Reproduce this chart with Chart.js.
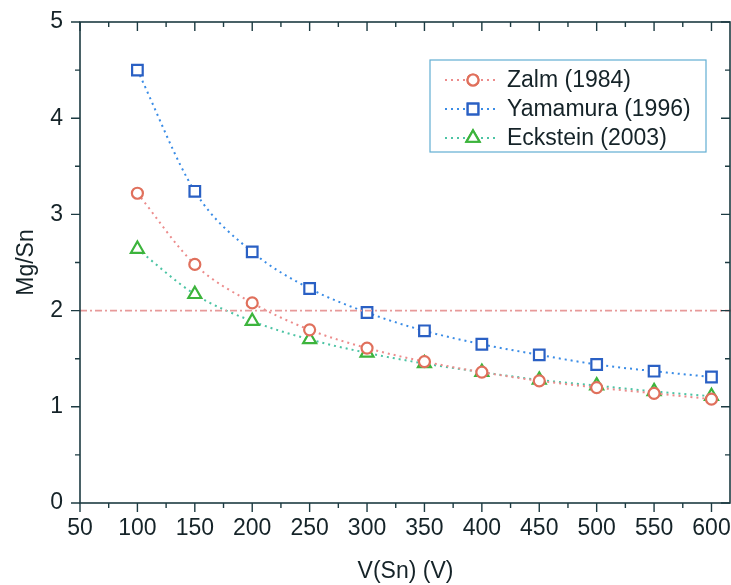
<!DOCTYPE html>
<html>
<head>
<meta charset="utf-8">
<script src="https://cdn.jsdelivr.net/npm/chart.js@4/dist/chart.umd.min.js"></script>
<style>
  body { margin: 0; background: #fff; }
  #wrap { width: 731px; height: 585px; }
</style>
</head>
<body>
<div id="wrap"><canvas id="chart" width="731" height="585"></canvas></div>
<script>
// values
const voltages = [100, 150, 200, 250, 300, 350, 400, 450, 500, 550, 600];
const zalm = [3.22, 2.48, 2.08, 1.80, 1.61, 1.47, 1.36, 1.27, 1.20, 1.14, 1.08];
const yamamura = [4.50, 3.24, 2.61, 2.23, 1.98, 1.79, 1.65, 1.54, 1.44, 1.37, 1.31];
const eckstein = [2.64, 2.17, 1.89, 1.70, 1.56, 1.45, 1.36, 1.28, 1.22, 1.16, 1.11];
const seriesNames = ["Zalm (1984)", "Yamamura (1996)", "Eckstein (2003)"];
const refLevel = 2;
const xMin = 50, xMax = 617;
const yMin = 0, yMax = 5;

const FONT = "Liberation Sans, Arial, sans-serif";
const axisColor = "#1d3b42";
const textColor = "#152328";

function toPoints(vals) {
    return vals.map((v, i) => ({ x: voltages[i], y: v }));
}

const styles = [
    { line: "#ec8c8c", marker: "#e0705c", shape: "circle", r: 5.5 },
    { line: "#3a8ce6", marker: "#2a60c4", shape: "rect", r: 7.5 },
    { line: "#4cc4a4", marker: "#3cb43c", shape: "triangle", r: 7.5 }
];

const datasets = [zalm, yamamura, eckstein].map((vals, i) => ({
    label: seriesNames[i],
    data: toPoints(vals),
    borderColor: styles[i].line,
    borderWidth: 2,
    borderDash: [2, 4],
    cubicInterpolationMode: "monotone",
    pointStyle: styles[i].shape,
    pointRadius: styles[i].r,
    pointBorderColor: styles[i].marker,
    pointBorderWidth: 2.2,
    pointBackgroundColor: "#fff",
    fill: false
}));

// dash-dot reference line at Mg/Sn = 2
datasets.unshift({
    label: "ref",
    data: [{ x: xMin, y: refLevel }, { x: xMax, y: refLevel }],
    borderColor: "#e79a9a",
    borderWidth: 1.6,
    borderDash: [7, 3, 2, 3],
    pointRadius: 0,
    fill: false
});

// frame, minor/major ticks, and the boxed legend
const framePlugin = {
    id: "frame",
    afterDraw(chart) {
        const ctx = chart.ctx;
        const a = chart.chartArea;
        const xs = chart.scales.x, ys = chart.scales.y;
        const right = Math.min(a.right, 730);
        ctx.save();
        ctx.strokeStyle = axisColor;
        ctx.lineWidth = 1.6;
        ctx.strokeRect(a.left, a.top, right - a.left, a.bottom - a.top);

        ctx.lineWidth = 1.4;
        for (let v = xMin; v <= 600; v += 25) {
            const px = xs.getPixelForValue(v);
            const len = (v % 50 === 0) ? 9 : 5;
            ctx.beginPath();
            ctx.moveTo(px, a.bottom); ctx.lineTo(px, a.bottom + len);
            ctx.moveTo(px, a.top); ctx.lineTo(px, a.top + len);
            ctx.stroke();
        }
        for (let v = yMin; v <= yMax; v += 0.5) {
            const py = ys.getPixelForValue(v);
            const len = (v % 1 === 0) ? 9 : 5;
            ctx.beginPath();
            ctx.moveTo(a.left, py); ctx.lineTo(a.left - len, py);
            ctx.moveTo(right, py); ctx.lineTo(right - len, py);
            ctx.stroke();
        }

        // legend
        const box = { x: 430, y: 60, w: 276, h: 92 };
        ctx.fillStyle = "#fff";
        ctx.fillRect(box.x, box.y, box.w, box.h);
        ctx.strokeStyle = "#62aed2";
        ctx.lineWidth = 1.2;
        ctx.strokeRect(box.x, box.y, box.w, box.h);
        const rowsY = [80, 109, 138];
        seriesNames.forEach((name, i) => {
            const st = styles[i];
            const y = rowsY[i];
            ctx.save();
            ctx.strokeStyle = st.line;
            ctx.lineWidth = 2;
            ctx.setLineDash([2, 4]);
            ctx.beginPath();
            ctx.moveTo(445, y); ctx.lineTo(499, y);
            ctx.stroke();
            ctx.restore();
            ctx.fillStyle = "#fff";
            ctx.strokeStyle = st.marker;
            ctx.lineWidth = 2.2;
            Chart.helpers.drawPoint(ctx, { pointStyle: st.shape, radius: st.r, borderWidth: 2.2 }, 473, y);
            ctx.fill();
            ctx.stroke();
            ctx.fillStyle = textColor;
            ctx.font = "23px " + FONT;
            ctx.textAlign = "left";
            ctx.textBaseline = "middle";
            ctx.fillText(name, 507, y + 1);
        });
        ctx.restore();
    }
};

new Chart(document.getElementById("chart"), {
    type: "line",
    data: { datasets: datasets },
    options: {
        responsive: false,
        animation: false,
        layout: { autoPadding: false, padding: { top: 22, right: 0, left: 0, bottom: 0 } },
        plugins: { legend: { display: false }, tooltip: { enabled: false } },
        scales: {
            x: {
                type: "linear",
                min: xMin,
                max: xMax,
                grid: { display: false, drawTicks: false },
                border: { display: false },
                ticks: {
                    stepSize: 50,
                    includeBounds: false,
                    padding: 12,
                    color: textColor,
                    font: { size: 23, family: FONT },
                    maxRotation: 0,
                    autoSkip: false
                },
                title: {
                    display: true,
                    text: "V(Sn) (V)",
                    color: textColor,
                    font: { size: 23, family: FONT },
                    padding: { top: 1, bottom: 0 }
                },
                afterFit(scale) {
                    scale.height = 82;
                    scale.paddingRight = 0;
                    scale.paddingLeft = 0;
                }
            },
            y: {
                min: yMin,
                max: yMax,
                grid: { display: false, drawTicks: false },
                border: { display: false },
                ticks: {
                    stepSize: 1,
                    padding: 17,
                    color: textColor,
                    font: { size: 23, family: FONT }
                },
                title: {
                    display: true,
                    text: "Mg/Sn",
                    color: textColor,
                    font: { size: 23, family: FONT },
                    padding: { top: 13, bottom: 0 }
                },
                afterFit(scale) {
                    scale.width = 80;
                    scale.paddingTop = 0;
                    scale.paddingBottom = 0;
                }
            }
        }
    },
    plugins: [framePlugin]
});
</script>
</body>
</html>
